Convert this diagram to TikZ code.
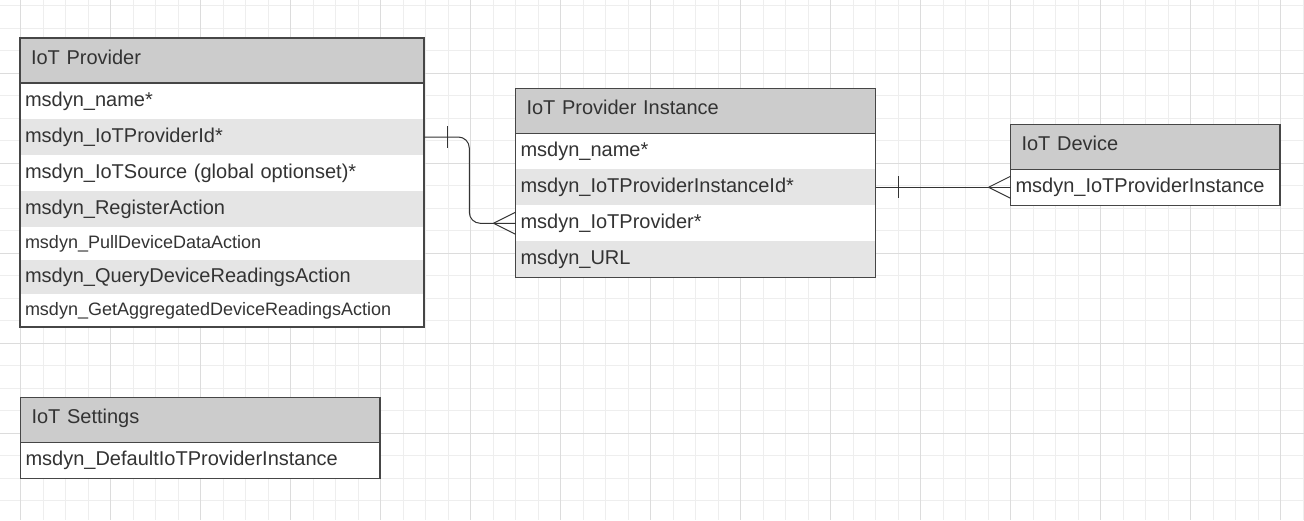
\documentclass[tikz,border=0pt]{standalone}
\usepackage{fontspec}
\setmainfont{Liberation Sans}
\usetikzlibrary{positioning}
\definecolor{gridminor}{HTML}{EEEEEE}
\definecolor{gridmajor}{HTML}{DCDCDC}
\definecolor{headfill}{HTML}{CCCCCC}
\definecolor{rowfill}{HTML}{E5E5E5}
\definecolor{inkgray}{HTML}{333333}
\definecolor{framegray}{HTML}{464646}

\begin{document}
\begin{tikzpicture}[
    x=1pt,y=-1pt,
    every node/.style={outer sep=0pt,inner ysep=0pt,text=inkgray,
        text height=14pt,text depth=4pt},
    entityhead/.style={fill=headfill,anchor=north west,minimum height=45pt,
        inner xsep=11pt,text width=#1-22pt,text depth=7pt,
        font=\fontsize{20}{24}\selectfont},
    attr/.style={fill=white,minimum height=36pt,inner xsep=5pt,
        text width=#1-10pt,font=\fontsize{20}{24}\selectfont},
    altrow/.style={fill=rowfill},
    smallrow/.style={minimum height=33pt,font=\fontsize{18}{22}\selectfont},
    entityframe/.style={draw=framegray,line width=1.1pt},
    relation/.style={draw=inkgray,line width=1pt},
    gridline/.style={draw=gridminor,line width=1pt},
    gridbold/.style={draw=gridmajor,line width=1pt},
    ]
    % Paper and bounding box
    \fill[white] (0,0) rectangle (1304,520);
    \useasboundingbox (0,0) rectangle (1304,520);
    % Background grid
    \foreach \i in {-1,...,57}
        \draw[gridline] (20.7+22.5*\i,0) -- (20.7+22.5*\i,520);
    \foreach \j in {-3,...,19}
        \draw[gridline] (0,73.3+22.5*\j) -- (1304,73.3+22.5*\j);
    \foreach \i in {0,...,14}
        \draw[gridbold] (20.7+90*\i,0) -- (20.7+90*\i,520);
    \foreach \j in {0,...,4}
        \draw[gridbold] (0,73.3+90*\j) -- (1304,73.3+90*\j);

    % IoT Provider
    \node[entityhead=404] (prov-head) at (20,38) {IoT Provider};
    \node[attr=404,below=0pt of prov-head] (prov-name) {msdyn\_name*};
    \node[attr=404,altrow,below=0pt of prov-name] (prov-id) {msdyn\_IoTProviderId*};
    \node[attr=404,below=0pt of prov-id] (prov-source)
        {msdyn\_IoTSource (global optionset)*};
    \node[attr=404,altrow,below=0pt of prov-source] (prov-register)
        {msdyn\_RegisterAction};
    \node[attr=404,smallrow,below=0pt of prov-register] (prov-pull)
        {msdyn\_PullDeviceDataAction};
    \node[attr=404,altrow,minimum height=34pt,below=0pt of prov-pull] (prov-query)
        {msdyn\_QueryDeviceReadingsAction};
    \node[attr=404,smallrow,below=0pt of prov-query] (prov-get)
        {msdyn\_GetAggregatedDeviceReadingsAction};
    \draw[entityframe] (prov-head.north west) rectangle (prov-get.south east);
    \draw[entityframe] (prov-head.south west) -- (prov-head.south east);

    % IoT Provider Instance
    \node[entityhead=360] (inst-head) at (515.5,88.3) {IoT Provider Instance};
    \node[attr=360,below=0pt of inst-head] (inst-name) {msdyn\_name*};
    \node[attr=360,altrow,below=0pt of inst-name] (inst-id)
        {msdyn\_IoTProviderInstanceId*};
    \node[attr=360,below=0pt of inst-id] (inst-prov) {msdyn\_IoTProvider*};
    \node[attr=360,altrow,below=0pt of inst-prov] (inst-url) {msdyn\_URL};
    \draw[entityframe] (inst-head.north west) rectangle (inst-url.south east);
    \draw[entityframe] (inst-head.south west) -- (inst-head.south east);

    % IoT Device
    \node[entityhead=269.5] (dev-head) at (1010.5,124.3) {IoT Device};
    \node[attr=269.5,below=0pt of dev-head] (dev-inst)
        {msdyn\_IoTProviderInstance};
    \draw[entityframe] (dev-head.north west) rectangle (dev-inst.south east);
    \draw[entityframe] (dev-head.south west) -- (dev-head.south east);

    % IoT Settings
    \node[entityhead=359.5] (set-head) at (20.5,397.7) {IoT Settings};
    \node[attr=359.5,below=0pt of set-head] (set-default)
        {msdyn\_DefaultIoTProviderInstance};
    \draw[entityframe] (set-head.north west) rectangle (set-default.south east);
    \draw[entityframe] (set-head.south west) -- (set-head.south east);

    % Provider -> Provider Instance (one to many)
    \draw[relation,rounded corners=11pt]
        (prov-id.east) -- ++(45.3,0) |- (inst-prov.west);
    \draw[relation] ([xshift=23pt]prov-id.east) ++(0,-11) -- ++(0,22);
    \draw[relation] ([xshift=-22pt]inst-prov.west) -- ++(22,-11)
                    ([xshift=-22pt]inst-prov.west) -- ++(22,11);

    % Provider Instance -> Device (one to many)
    \draw[relation] (inst-id.east) -- (dev-inst.west);
    \draw[relation] ([xshift=23pt]inst-id.east) ++(0,-11) -- ++(0,22);
    \draw[relation] ([xshift=-22pt]dev-inst.west) -- ++(22,-11)
                    ([xshift=-22pt]dev-inst.west) -- ++(22,11);
\end{tikzpicture}
\end{document}
